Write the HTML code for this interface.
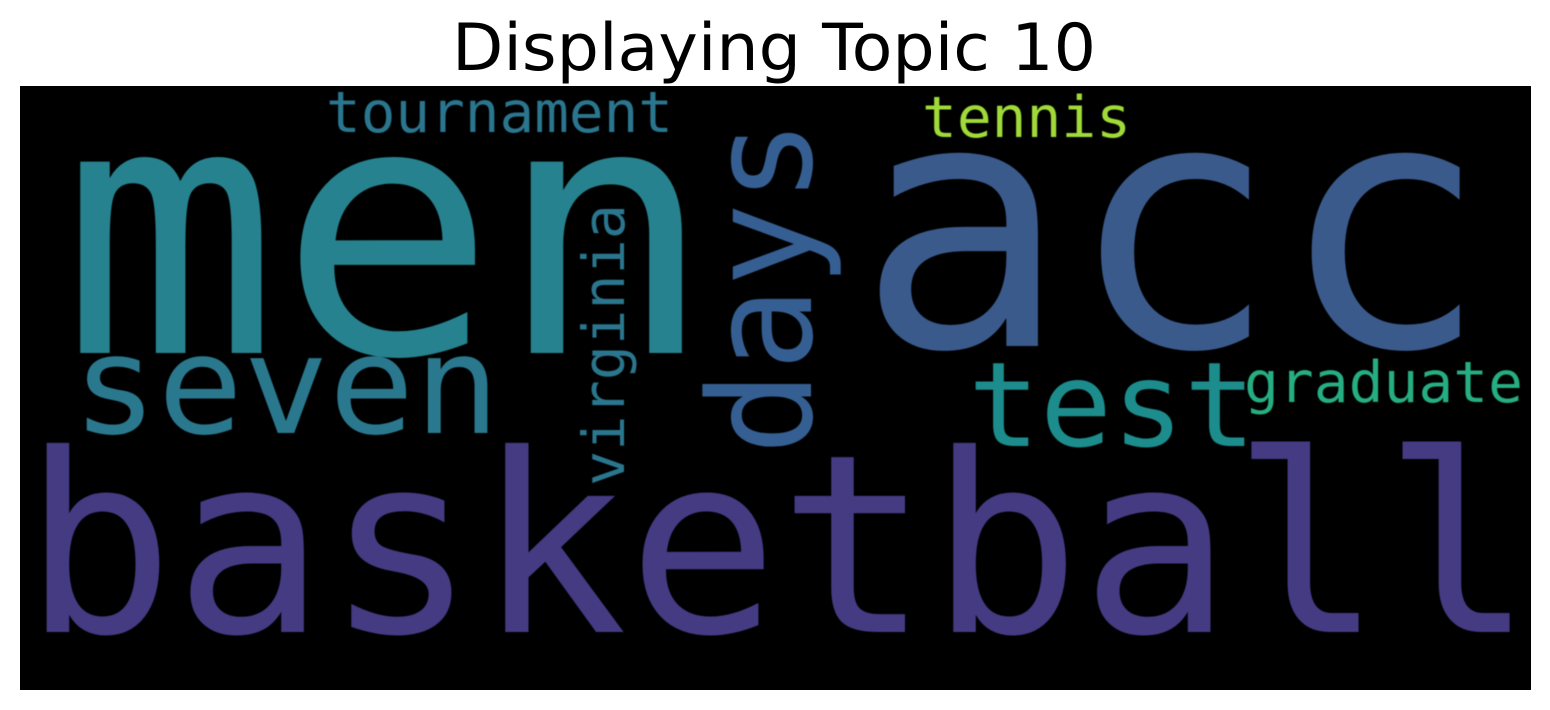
<!DOCTYPE html>
<html lang="en">
<head>
<meta charset="utf-8">
<title>Displaying Topic 10</title>
<style>
html,body{margin:0;padding:0;background:#fff;width:1550px;height:710px;overflow:hidden}
svg{display:block}
.w{font-family:"DejaVu Sans Mono","Liberation Mono",monospace}
</style>
</head>
<body>
<svg xmlns="http://www.w3.org/2000/svg" width="1550" height="710" viewBox="0 0 1550 710">
<defs><filter id="soft" x="-5%" y="-5%" width="110%" height="110%"><feGaussianBlur stdDeviation="0.5"/></filter></defs>
<rect width="1550" height="710" fill="#fff"/>
<text x="452" y="70" font-family="'DejaVu Sans',sans-serif" font-size="65" fill="#000" textLength="644" lengthAdjust="spacingAndGlyphs">Displaying Topic 10</text>
<rect x="20" y="86" width="1511" height="604" fill="#000"/>
<g class="w" filter="url(#soft)">
<text x="61" y="353" font-size="350" fill="#26828e" textLength="653" lengthAdjust="spacingAndGlyphs">men</text>
<text x="857" y="346" font-size="345" fill="#3a5a8c" textLength="632" lengthAdjust="spacingAndGlyphs">acc</text>
<text x="23" y="632" font-size="249" fill="#443a83" textLength="1511" lengthAdjust="spacingAndGlyphs">basketball</text>
<text x="72" y="433" font-size="137" fill="#2a788e" textLength="428" lengthAdjust="spacingAndGlyphs">seven</text>
<text x="968" y="446" font-size="118" fill="#1f8d8c" textLength="288" lengthAdjust="spacingAndGlyphs">test</text>
<text x="326" y="132" font-size="57" fill="#2a768e" textLength="347" lengthAdjust="spacingAndGlyphs">tournament</text>
<text x="922" y="137" font-size="57" fill="#a0da39" textLength="209" lengthAdjust="spacingAndGlyphs">tennis</text>
<text x="1244" y="402" font-size="57" fill="#27ad81" textLength="279" lengthAdjust="spacingAndGlyphs">graduate</text>
<text transform="translate(811,455) rotate(-90)" font-size="143" fill="#365f92" textLength="336" lengthAdjust="spacingAndGlyphs">days</text>
<text transform="translate(624,486) rotate(-90)" font-size="58" fill="#2a768e" textLength="282" lengthAdjust="spacingAndGlyphs">virginia</text>
</g>
</svg>
</body>
</html>
